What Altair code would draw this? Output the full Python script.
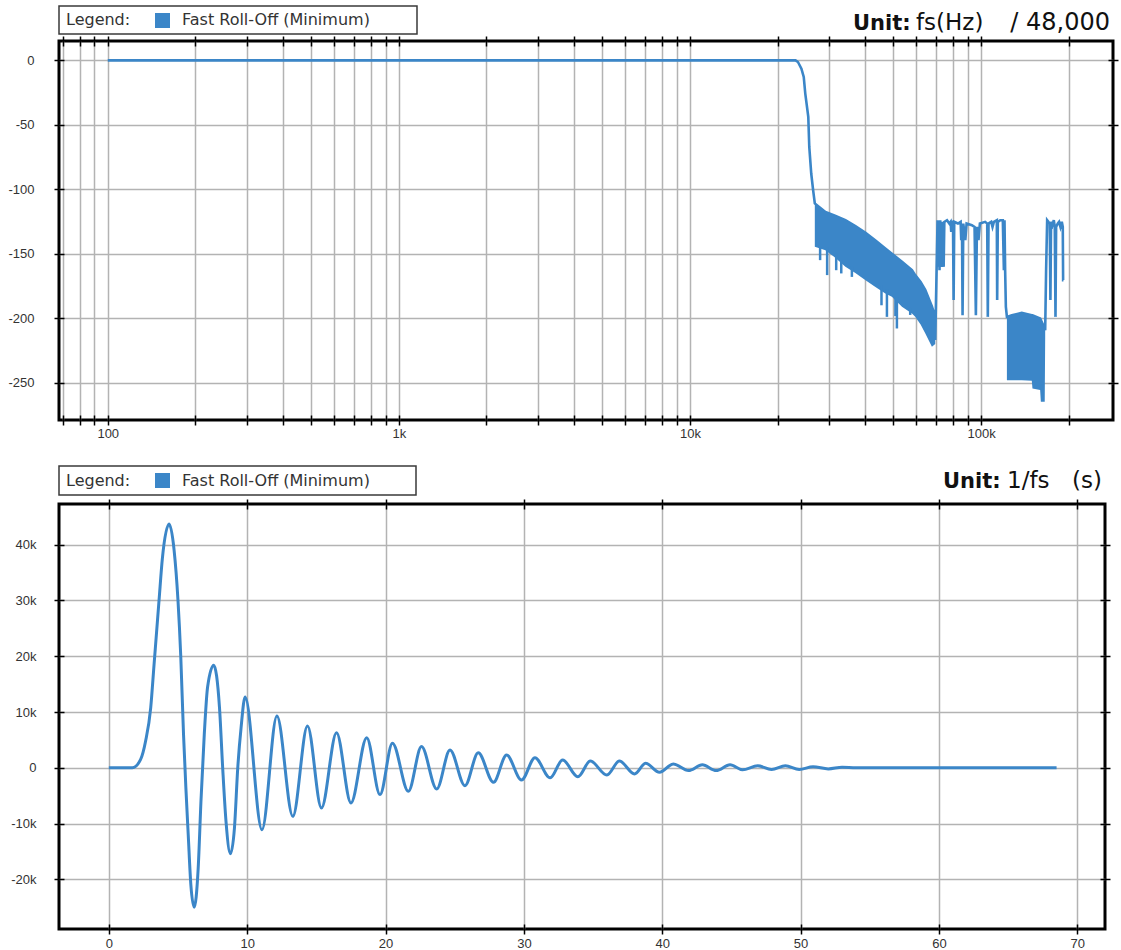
import altair as alt
import pandas as pd

BLUE = "#3b86c8"

# ---------------- top panel: frequency response (Hz, dB) ----------------
roll_f = [100, 23050, 23500, 24150, 24600, 24900, 25500, 25700, 26100, 26500, 26850]
roll_db = [0, 0, -1.3, -6.5, -12.9, -25.8, -43.9, -67.2, -87.8, -100.8, -111]

band1_f = [26850, 29200, 31500, 34200, 37000, 40100, 43500, 46900, 49400, 53500, 57900, 59400,
           62000, 64300, 67800, 69600]
band1_hi = [-111, -117.6, -120.5, -124, -128.5, -133.8, -140, -146, -150, -156.3, -162.8, -166.6,
            -172, -178, -191, -199]
band1_lo = [-144.7, -147.3, -153, -160.2, -165, -170.5, -176, -180.8, -183.4, -191.2, -196.3, -199,
            -205, -211.8, -222.2, -220]

spike_f = [28000, 29600, 31800, 33100, 36000, 45500, 47500, 50800, 51400, 57100]
spike_top = [-145, -145, -150, -155, -160, -175, -178, -183, -184, -192]
spike_bot = [-155, -166.6, -162.8, -165.3, -168, -190, -199, -198.4, -208, -197.5]

hf_f = [69600, 70200, 70900, 71300, 71700, 72000, 72400, 73000, 73600, 74400, 74800,
        76400, 77800, 78600, 79000, 79400, 80100, 80500, 80900, 83300, 85100, 85500,
        86000, 86400, 86900, 88300, 89200, 93000, 95000, 96000, 96800, 98000, 99100,
        103300, 105000, 105500, 106100, 108400, 109500, 110700, 113300, 113600, 114200,
        116400, 118800, 119800, 120400, 121000, 121700, 122700]
hf_db = [-217, -174.4, -124, -160.2, -125.3, -162.8, -124, -160.2, -125.3, -160.2, -125.3,
         -124, -126.6, -125.3, -133.1, -125.3, -125.3, -186, -125.3, -126.6, -125.3, -139.5,
         -126.6, -197.7, -126.6, -139.5, -126.6, -127.9, -129.2, -197.7, -129.2, -139.5, -126.6,
         -125.3, -126.6, -199, -126.6, -125.3, -129.2, -125.3, -124, -186, -125.3,
         -124, -124, -162.8, -124, -162.8, -191.2, -199]

band2_f = [122700, 127600, 138000, 149400, 150200, 159600, 160500, 165500, 166100]
band2_hi = [-199, -197.7, -195.9, -197.7, -197.7, -200.3, -201.5, -208, -209.3]
band2_lo = [-248.1, -248.1, -248.1, -248.6, -254.6, -255.8, -264.9, -264.9, -215]

tail_f = [166100, 167300, 168700, 170400, 172200, 173100, 174000, 175900, 177800, 179200,
          180200, 181100, 183500, 185400, 187400, 189400, 190900, 191400, 191900]
tail_db = [-209.3, -162.8, -124, -125.3, -126.6, -186, -125.3, -127.9, -124, -129.2,
           -199, -129.2, -126.6, -125.3, -129.2, -125.3, -129.2, -170.5, -170.5]

freq_ticks = [70, 80, 90] + [m * 10 ** e for e in range(2, 5) for m in range(1, 10)] + [100000, 200000]
db_ticks = [0, -50, -100, -150, -200, -250]

# ---------------- bottom panel: impulse response ----------------
imp_t = [0, 1.7, 2.3, 2.66, 3.03, 3.27, 3.63, 3.87, 4.36, 4.72, 5.0, 5.2, 5.4, 5.57, 5.74,
         5.93, 6.17, 6.46, 6.66, 6.9, 7.14, 7.58, 8.0, 8.23, 8.47, 8.79, 9.08, 9.32, 9.56,
         9.85, 11.07, 12.15, 13.3, 14.36, 15.37, 16.46, 17.5, 18.64, 19.6, 20.5, 21.65,
         22.6, 23.7, 24.66, 25.74, 26.7, 27.8, 28.75, 29.83, 30.8, 31.9, 32.8, 33.9, 34.8,
         36.0, 36.9, 38.0, 38.8, 39.8, 40.8, 41.9, 42.9, 43.9, 44.9, 45.8, 46.9, 47.9,
         48.9, 49.9, 50.9, 52.0, 53.0, 54.0, 68.5]
imp_k = [0, 0, 1.5, 4.8, 10.8, 18.5, 30, 37.5, 43.7, 39, 30, 20, 6, -3.6, -12,
         -21, -25, -18, -6, 6, 14.5, 18.4, 10.8, 0, -9.6, -15.4, -10.8, 0, 7.2,
         12.7, -11.1, 9.3, -8.7, 7.5, -7.2, 6.3, -6.3, 5.4, -4.8, 4.4, -4.2,
         3.8, -3.8, 3.2, -3.2, 2.7, -2.6, 2.3, -2.2, 1.8, -1.8, 1.4, -1.6, 1.2,
         -1.3, 1.2, -1.1, 0.8, -0.8, 0.7, -0.5, 0.55, -0.5, 0.55, -0.35, 0.35, -0.3,
         0.35, -0.3, 0.2, -0.2, 0.1, 0, 0]
t_ticks = [0, 10, 20, 30, 40, 50, 60, 70]
k_ticks = [-20, -10, 0, 10, 20, 30, 40]

# ---------------- data tables ----------------
trace_f = roll_f + band1_f + hf_f + band2_f + tail_f
trace_db = roll_db + band1_hi + hf_db + band2_hi + tail_db
resp_df = pd.DataFrame({"f": trace_f, "db": trace_db, "i": list(range(len(trace_f)))})
band1_df = pd.DataFrame({"f": band1_f, "hi": band1_hi, "lo": band1_lo})
band2_df = pd.DataFrame({"f": band2_f, "hi": band2_hi, "lo": band2_lo})
spike_df = pd.DataFrame({"f": spike_f, "top": spike_top, "bot": spike_bot})
imp_df = pd.DataFrame({"t": imp_t, "k": imp_k})
one = pd.DataFrame({"k": [0]})

# ---------------- axes ----------------
AX = dict(domain=False, tickColor="#000000", tickWidth=1.5, tickSize=10, offset=-5,
          title=None, gridColor="#b3b3b3", gridWidth=1.5)
LBL = dict(labelFont="Liberation Sans", labelFontSize=13, labelColor="#333333",
           labelOverlap=False, labelFlush=False)


def axis_main(orient, values, pad, expr):
    return alt.Axis(orient=orient, values=values, grid=True, labelPadding=pad,
                    labelExpr=expr, **AX, **LBL)


def axis_ticks(orient, values):
    return alt.Axis(orient=orient, values=values, grid=False, labels=False, **AX)


def decorations(box, square, text_y, units, anchor):
    layers = []
    layers.append(alt.Chart(one).mark_rect(fill="white", stroke="#3a3a3a", strokeWidth=1.5).encode(
        x=alt.value(box[0]), x2=alt.value(box[1]), y=alt.value(box[2]), y2=alt.value(box[3])))
    layers.append(alt.Chart(one).mark_rect(fill=BLUE).encode(
        x=alt.value(square[0]), x2=alt.value(square[1]), y=alt.value(square[2]), y2=alt.value(square[3])))
    layers.append(alt.Chart(one).mark_text(align="left", baseline="middle", font="DejaVu Sans",
                                           fontSize=16, color="#333333").encode(
        x=alt.value(7), y=alt.value(text_y), text=alt.value("Legend:")))
    layers.append(alt.Chart(one).mark_text(align="left", baseline="middle", font="DejaVu Sans",
                                           fontSize=16, color="#333333").encode(
        x=alt.value(123), y=alt.value(text_y), text=alt.value("Fast Roll-Off (Minimum)")))
    for txt, xx, yy, al, wt, fs in units:
        layers.append(alt.Chart(one).mark_text(align=al, baseline="alphabetic", font="DejaVu Sans",
                                               fontSize=fs, fontWeight=wt, color="#111111").encode(
            x=alt.value(xx), y=alt.value(yy), text=alt.value(txt)))
    layers.append(alt.Chart(one).mark_rule(opacity=0).encode(
        x=alt.value(-57), y=alt.value(anchor[0]), y2=alt.value(anchor[1])))
    return layers


# ---------------- top chart ----------------
fscale = alt.Scale(type="log", domain=[68, 284000], nice=False)
dbscale = alt.Scale(domain=[-279, 15], nice=False, zero=False)
fexpr = ("datum.value == 100 ? '100' : datum.value == 1000 ? '1k' : "
         "datum.value == 10000 ? '10k' : datum.value == 100000 ? '100k' : ''")

top_line = alt.Chart(resp_df).mark_line(color=BLUE, strokeWidth=2.6, strokeJoin="miter").encode(
    x=alt.X("f:Q", scale=fscale, axis=axis_main("bottom", freq_ticks, 2, fexpr)),
    y=alt.Y("db:Q", scale=dbscale, axis=axis_main("left", db_ticks, 20, "'' + datum.value")),
    order=alt.Order("i:Q"),
)
top_band1 = alt.Chart(band1_df).mark_area(color=BLUE, opacity=1).encode(
    x=alt.X("f:Q", scale=fscale, axis=axis_ticks("top", freq_ticks)),
    y=alt.Y("hi:Q", scale=dbscale, axis=axis_ticks("right", db_ticks)),
    y2="lo:Q",
)
top_band2 = alt.Chart(band2_df).mark_area(color=BLUE, opacity=1).encode(
    x=alt.X("f:Q", scale=fscale, axis=None),
    y=alt.Y("hi:Q", scale=dbscale, axis=None),
    y2="lo:Q",
)
top_spikes = alt.Chart(spike_df).mark_rule(color=BLUE, strokeWidth=2.5).encode(
    x=alt.X("f:Q", scale=fscale, axis=None),
    y=alt.Y("top:Q", scale=dbscale, axis=None),
    y2="bot:Q",
)
top_deco = decorations(
    box=(0, 358, -35, -7), square=(96, 111, -28, -13), text_y=-21,
    units=[("Unit:", 794, -11, "left", "bold", 21), ("fs(Hz)", 857, -11, "left", "normal", 23),
           ("/ 48,000", 1051, -11, "right", "normal", 24)],
    anchor=(-39, 419),
)
top = alt.layer(top_line, top_band1, top_band2, top_spikes, *top_deco).resolve_axis(
    x="independent", y="independent").properties(width=1054, height=379)

# ---------------- bottom chart ----------------
tscale = alt.Scale(domain=[-3.6, 72.0], nice=False, zero=False)
kscale = alt.Scale(domain=[-28.9, 47.3], nice=False, zero=False)

bot_line = alt.Chart(imp_df).mark_line(color=BLUE, strokeWidth=3, interpolate="monotone").encode(
    x=alt.X("t:Q", scale=tscale, axis=axis_main("bottom", t_ticks, 3, "'' + datum.value")),
    y=alt.Y("k:Q", scale=kscale, axis=axis_main("left", k_ticks, 18,
                                                 "datum.value == 0 ? '0' : datum.value + 'k'")),
)
bot_ticks = alt.Chart(imp_df).mark_line(opacity=0).encode(
    x=alt.X("t:Q", scale=tscale, axis=axis_ticks("top", t_ticks)),
    y=alt.Y("k:Q", scale=kscale, axis=axis_ticks("right", k_ticks)),
)
bot_deco = decorations(
    box=(0, 357, -38, -9), square=(96, 111, -31, -16), text_y=-23.5,
    units=[("Unit:", 884, -16, "left", "bold", 21), ("1/fs", 948, -16, "left", "normal", 23),
           ("(s)", 1043, -16, "right", "normal", 23)],
    anchor=(-40, 440),
)
bottom = alt.layer(bot_line, bot_ticks, *bot_deco).resolve_axis(
    x="independent", y="independent").properties(width=1046, height=425)

chart = alt.vconcat(top, bottom, spacing=0).properties(
    padding=0, background="white").configure_view(stroke="#000000", strokeWidth=3)

chart.save("out.html", embed_options={"renderer": "svg", "actions": False})
